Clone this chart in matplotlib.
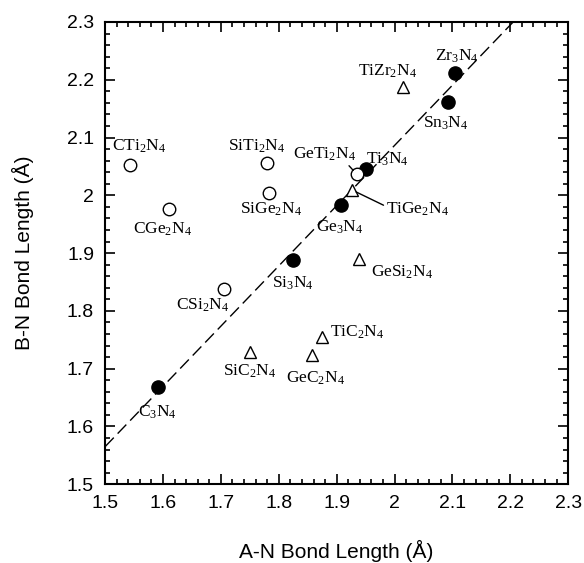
import matplotlib
matplotlib.use("Agg")
import matplotlib.pyplot as plt
from matplotlib.ticker import MultipleLocator
import numpy as np

plt.rcParams['font.family'] = ['Liberation Sans', 'DejaVu Sans']
plt.rcParams['mathtext.fontset'] = 'custom'
plt.rcParams['mathtext.rm'] = 'Liberation Serif'
plt.rcParams['mathtext.it'] = 'Liberation Serif:italic'

# --- data ---
filled_names = ['C$_3$N$_4$', 'Si$_3$N$_4$', 'Ge$_3$N$_4$', 'Ti$_3$N$_4$', 'Sn$_3$N$_4$', 'Zr$_3$N$_4$']
filled_x = [1.592, 1.825, 1.908, 1.951, 2.092, 2.105]
filled_y = [1.668, 1.888, 1.983, 2.046, 2.161, 2.212]
filled_lx = [1.591, 1.824, 1.905, 1.987, 2.088, 2.107]
filled_ly = [1.624, 1.848, 1.945, 2.062, 2.125, 2.240]

open_names = ['CTi$_2$N$_4$', 'CGe$_2$N$_4$', 'CSi$_2$N$_4$', 'SiTi$_2$N$_4$', 'SiGe$_2$N$_4$', 'GeTi$_2$N$_4$']
open_x = [1.543, 1.610, 1.705, 1.780, 1.783, 1.935]
open_y = [2.052, 1.976, 1.838, 2.056, 2.004, 2.036]
open_lx = [1.558, 1.600, 1.668, 1.762, 1.787, 1.879]
open_ly = [2.085, 1.941, 1.810, 2.085, 1.975, 2.071]

tri_names = ['SiC$_2$N$_4$', 'GeC$_2$N$_4$', 'TiC$_2$N$_4$', 'GeSi$_2$N$_4$', 'TiGe$_2$N$_4$', 'TiZr$_2$N$_4$']
tri_x = [1.751, 1.858, 1.875, 1.938, 1.927, 2.014]
tri_y = [1.728, 1.723, 1.755, 1.889, 2.009, 2.188]
tri_lx = [1.750, 1.864, 1.935, 2.012, 2.040, 1.987]
tri_ly = [1.695, 1.683, 1.763, 1.867, 1.976, 2.214]

fit_slope = 1.0426
fit_intercept = 0.0011

fig = plt.figure(figsize=(5.84, 5.63), dpi=100)
ax = fig.add_axes([0.180, 0.140, 0.793, 0.821])

# fit line
lx = np.array([1.5, 2.3])
ax.plot(lx, fit_slope * lx + fit_intercept, color='black', lw=1.0,
        dashes=(9, 4), zorder=1)

ax.plot(filled_x, filled_y, 'o', color='black', ms=9.5, zorder=3)
ax.plot(open_x, open_y, 'o', mfc='white', mec='black', mew=1.0, ms=9, zorder=3)
ax.plot(tri_x, tri_y, '^', mfc='white', mec='black', mew=1.0, ms=8.5, zorder=3)

tfs = 12.5
serif = ['Liberation Serif', 'DejaVu Serif']
for names, lxs, lys in [(filled_names, filled_lx, filled_ly),
                        (open_names, open_lx, open_ly),
                        (tri_names, tri_lx, tri_ly)]:
    for n, x, y in zip(names, lxs, lys):
        if n in ('GeTi$_2$N$_4$', 'TiGe$_2$N$_4$'):
            continue
        ax.text(x, y, n, ha='center', va='center', fontsize=tfs, family=serif, zorder=4)

# leader-line labels
i = open_names.index('GeTi$_2$N$_4$')
ax.annotate(open_names[i], xy=(open_x[i], open_y[i]), xytext=(open_lx[i], open_ly[i]),
            ha='center', va='center', fontsize=tfs, family=serif,
            arrowprops=dict(arrowstyle='-', lw=1.0, color='black', relpos=(0.85, 0.0),
                            shrinkA=0, shrinkB=4))
j = tri_names.index('TiGe$_2$N$_4$')
ax.annotate(tri_names[j], xy=(tri_x[j], tri_y[j]), xytext=(tri_lx[j], tri_ly[j]),
            ha='center', va='center', fontsize=tfs, family=serif,
            arrowprops=dict(arrowstyle='-', lw=1.0, color='black', relpos=(0.0, 0.65),
                            shrinkA=0, shrinkB=3))

ax.set_xlim(1.5, 2.3)
ax.set_ylim(1.5, 2.3)
ax.xaxis.set_major_locator(MultipleLocator(0.1))
ax.yaxis.set_major_locator(MultipleLocator(0.1))
ax.xaxis.set_minor_locator(MultipleLocator(0.02))
ax.yaxis.set_minor_locator(MultipleLocator(0.02))

def fmt(v, pos):
    s = f"{v:.1f}"
    return "2" if s == "2.0" else s
ax.xaxis.set_major_formatter(plt.FuncFormatter(fmt))
ax.yaxis.set_major_formatter(plt.FuncFormatter(fmt))

ax.tick_params(which='both', direction='in', top=True, right=True, width=1.2)
ax.tick_params(which='major', length=7, labelsize=14, pad=8)
ax.tick_params(which='minor', length=3.5)
for s in ax.spines.values():
    s.set_linewidth(1.5)

ax.set_xlabel('A-N Bond Length (Å)', fontsize=15, labelpad=20)
ax.set_ylabel('B-N Bond Length (Å)', fontsize=15, labelpad=24)

fig.savefig('out.png', dpi=100)
